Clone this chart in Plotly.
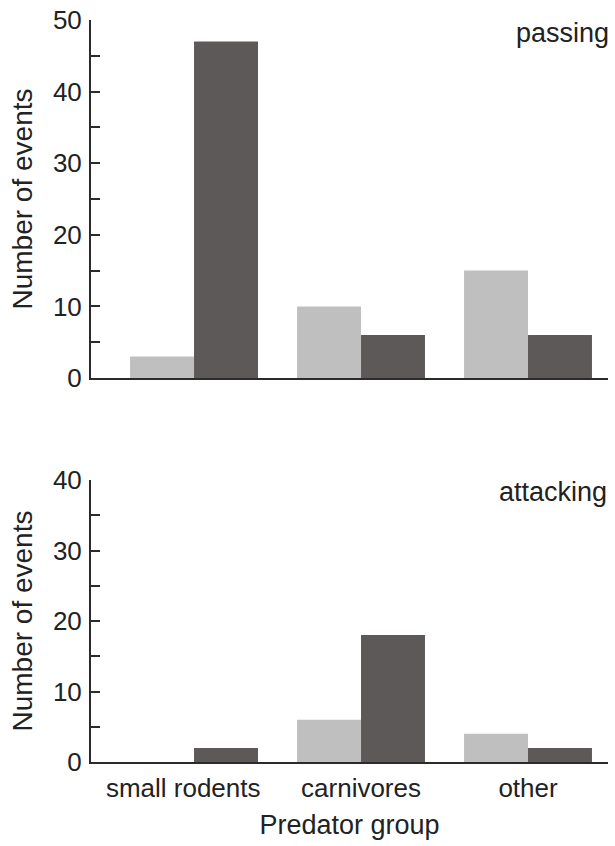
import plotly.graph_objects as go
from plotly.subplots import make_subplots

categories = ["small rodents", "carnivores", "other"]
passing_light = [3, 10, 15]
passing_dark = [47, 6, 6]
attacking_light = [0, 6, 4]
attacking_dark = [2, 18, 2]

LIGHT = "#bfbfbf"
DARK = "#5d5958"
AX = "#2b2b2b"
TXT = "#222222"
FONT = "Liberation Sans, Arial, sans-serif"

fig = make_subplots(rows=2, cols=1, shared_xaxes=False, vertical_spacing=0.1)

fig.add_trace(go.Bar(x=categories, y=passing_light, marker=dict(color=LIGHT, line=dict(width=0)), showlegend=False), row=1, col=1)
fig.add_trace(go.Bar(x=categories, y=passing_dark, marker=dict(color=DARK, line=dict(width=0)), showlegend=False), row=1, col=1)
fig.add_trace(go.Bar(x=categories, y=attacking_light, marker=dict(color=LIGHT, line=dict(width=0)), showlegend=False), row=2, col=1)
fig.add_trace(go.Bar(x=categories, y=attacking_dark, marker=dict(color=DARK, line=dict(width=0)), showlegend=False), row=2, col=1)

# first label sits slightly left of its group in the reference
tick_text = [categories[0] + "\u00a0\u00a0\u00a0", categories[1], categories[2]]

xcommon = dict(range=[-0.617, 2.479], showline=True, linecolor=AX, linewidth=2,
               ticks="", showgrid=False, zeroline=False, automargin=False)
fig.update_layout(
    xaxis=dict(domain=[0, 1], showticklabels=False, anchor="y", **xcommon),
    xaxis2=dict(domain=[0, 1], showticklabels=True, anchor="y2",
                tickmode="array", tickvals=categories, ticktext=tick_text,
                tickfont=dict(size=26, color=TXT, family=FONT),
                ticklabelstandoff=2, ticklabeloverflow="allow",
                title=dict(text="Predator group", font=dict(size=27, color=TXT, family=FONT), standoff=13),
                **xcommon),
)

ycommon = dict(showline=True, linecolor=AX, linewidth=2, ticks="inside", ticklen=9, tickwidth=2,
               tickcolor=AX, dtick=10, showgrid=False, zeroline=False, automargin=False,
               tickfont=dict(size=26, color=TXT, family=FONT), ticklabelstandoff=2,
               ticklabeloverflow="allow",
               minor=dict(dtick=5, ticks="inside", ticklen=9, tickwidth=2, tickcolor=AX),
               title=dict(text="Number of events", font=dict(size=28, color=TXT, family=FONT), standoff=12))
fig.update_layout(
    yaxis=dict(domain=[0.5175, 1.0], range=[0, 50], anchor="x", **ycommon),
    yaxis2=dict(domain=[0, 0.380], range=[0, 40], anchor="x2", **ycommon),
)

fig.add_annotation(text="passing", xref="paper", yref="paper", x=1.0, y=0.983, xshift=3,
                   xanchor="right", yanchor="middle", showarrow=False,
                   font=dict(size=27, color=TXT, family=FONT))
fig.add_annotation(text="attacking", xref="paper", yref="paper", x=1.0, y=0.364, xshift=1,
                   xanchor="right", yanchor="middle", showarrow=False,
                   font=dict(size=27, color=TXT, family=FONT))

fig.update_layout(
    width=615, height=846,
    margin=dict(l=91, r=7, t=20, b=84),
    barmode="group", bargap=0.234, bargroupgap=0,
    plot_bgcolor="white", paper_bgcolor="white",
    font=dict(family=FONT, color=TXT),
)

# remove the default 8px page-body margin so the figure fills the window exactly
fig.write_html("out.html", config={"displayModeBar": False},
               post_script="document.body.style.margin='0';document.body.style.overflow='hidden';")
